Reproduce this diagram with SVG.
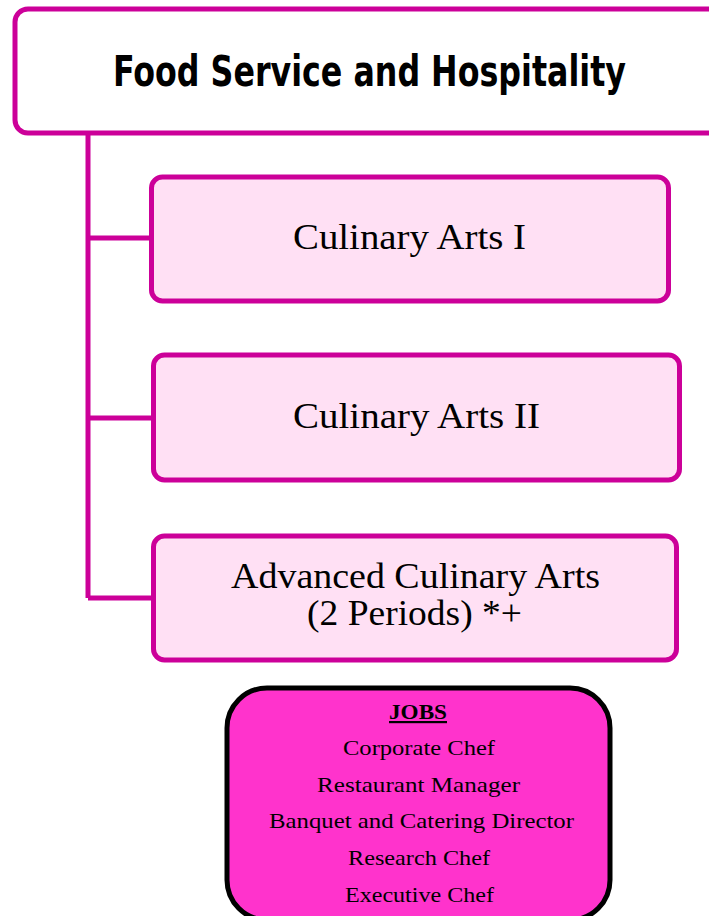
<svg xmlns="http://www.w3.org/2000/svg" width="709" height="916" viewBox="0 0 709 916">
<style>
.hdr{fill:#FFFFFF;stroke:#CC0099;stroke-width:5}
.course{fill:#FFE0F4;stroke:#CC0099;stroke-width:5}
.conn{fill:none;stroke:#CC0099;stroke-width:5}
.jobs{fill:#FF33CC;stroke:#000000;stroke-width:5}
.title{font-family:"DejaVu Sans Condensed","Liberation Sans Narrow","Liberation Sans",sans-serif;font-stretch:condensed;font-weight:bold;font-size:42px;fill:#000}
.ct{font-family:"Liberation Serif",serif;font-size:36px;fill:#000}
.jt{font-family:"Liberation Serif",serif;font-size:22px;fill:#000}
</style>
<g id="connectors">
<path class="conn" d="M88,134 V598 M88,238 H152 M88,418 H154 M88,598 H154"/>
</g>
<g id="header">
<rect class="hdr" x="15" y="9" width="720" height="124" rx="13"/>
<text class="title" x="113" y="86" textLength="513" lengthAdjust="spacingAndGlyphs">Food Service and Hospitality</text>
</g>
<g id="culinary1">
<rect class="course" x="151.5" y="177" width="517" height="124" rx="11"/>
<text class="ct" x="293" y="249" textLength="233" lengthAdjust="spacingAndGlyphs">Culinary Arts I</text>
</g>
<g id="culinary2">
<rect class="course" x="153.5" y="355" width="526" height="125" rx="11"/>
<text class="ct" x="293" y="428" textLength="247" lengthAdjust="spacingAndGlyphs">Culinary Arts II</text>
</g>
<g id="advanced">
<rect class="course" x="153.5" y="536" width="523" height="124" rx="11"/>
<text class="ct" x="231" y="588" textLength="369" lengthAdjust="spacingAndGlyphs">Advanced Culinary Arts</text>
<text class="ct" x="307" y="625" textLength="215" lengthAdjust="spacingAndGlyphs">(2 Periods) *+</text>
</g>
<g id="jobs">
<rect class="jobs" x="227" y="688" width="383" height="232" rx="40"/>
<text class="jt" x="389" y="719" textLength="58" lengthAdjust="spacingAndGlyphs" font-weight="bold" text-decoration="underline">JOBS</text>
<text class="jt" x="343" y="755" textLength="152" lengthAdjust="spacingAndGlyphs">Corporate Chef</text>
<text class="jt" x="317" y="792" textLength="203" lengthAdjust="spacingAndGlyphs">Restaurant Manager</text>
<text class="jt" x="269" y="828" textLength="305" lengthAdjust="spacingAndGlyphs">Banquet and Catering Director</text>
<text class="jt" x="348" y="865" textLength="142" lengthAdjust="spacingAndGlyphs">Research Chef</text>
<text class="jt" x="345" y="902" textLength="149" lengthAdjust="spacingAndGlyphs">Executive Chef</text>
</g>
</svg>
